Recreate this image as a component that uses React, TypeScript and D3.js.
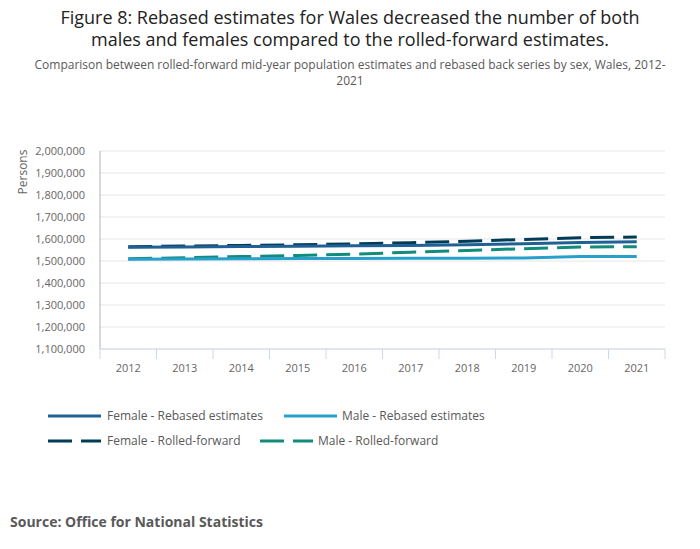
import React from 'react';
import * as d3 from 'd3';

const years = ['2012', '2013', '2014', '2015', '2016', '2017', '2018', '2019', '2020', '2021'];

const femaleRebased = [1563000, 1564000, 1566000, 1567000, 1569000, 1571000, 1574000, 1578000, 1584000, 1587000];
const maleRebased = [1508000, 1509000, 1510000, 1511000, 1511000, 1512000, 1513000, 1514000, 1521000, 1521000];
const femaleRolled = [1565000, 1568000, 1571000, 1574000, 1578000, 1583000, 1590000, 1598000, 1606000, 1609000];
const maleRolled = [1510000, 1515000, 1520000, 1525000, 1531000, 1540000, 1548000, 1556000, 1564000, 1565000];

const yTicks = [1100000, 1200000, 1300000, 1400000, 1500000, 1600000, 1700000, 1800000, 1900000, 2000000];

const series = [
  { name: 'Female - Rebased estimates', values: femaleRebased, color: '#206095', dash: '' },
  { name: 'Male - Rebased estimates', values: maleRebased, color: '#27a0cc', dash: '' },
  { name: 'Female - Rolled-forward', values: femaleRolled, color: '#003c57', dash: '24,9' },
  { name: 'Male - Rolled-forward', values: maleRolled, color: '#118c7b', dash: '24,9' },
];

const W = 700;
const H = 549;
const font = '"Open Sans", "Noto Sans", sans-serif';

export default function App() {
  const left = 100;
  const right = 665;
  const top = 151;
  const bottom = 349;

  const x = d3.scaleBand<string>().domain(years).range([left, right]);
  const y = d3.scaleLinear().domain([1100000, 2000000]).range([bottom, top]);
  const fmt = d3.format(',');

  // rolled-forward underneath, rebased on top
  const drawOrder = [series[2], series[3], series[0], series[1]];

  const legendPos = [
    { x: 48, y: 416, w: 53, tx: 107 },
    { x: 284, y: 416, w: 53, tx: 342 },
    { x: 48, y: 441, w: 53, tx: 107 },
    { x: 260, y: 441, w: 53, tx: 318 },
  ];

  return (
    <svg
      width={W}
      height={H}
      style={{ position: 'absolute', left: 0, top: 0, background: '#fff' }}
      fontFamily={font}
    >
      <text x={W / 2} y={24} textAnchor="middle" fontSize={18} fill="#222">
        Figure 8: Rebased estimates for Wales decreased the number of both
      </text>
      <text x={W / 2} y={46} textAnchor="middle" fontSize={18} fill="#222">
        males and females compared to the rolled-forward estimates.
      </text>
      <text x={W / 2} y={69} textAnchor="middle" fontSize={12} fill="#595959">
        Comparison between rolled-forward mid-year population estimates and rebased back series by sex, Wales, 2012-
      </text>
      <text x={W / 2} y={85} textAnchor="middle" fontSize={12} fill="#595959">
        2021
      </text>

      {/* grid */}
      {yTicks.map(t => (
        <g key={t}>
          <line x1={left} x2={right} y1={y(t)} y2={y(t)} stroke="#e6e6e6" strokeWidth={1} />
          <text x={85} y={y(t) + 4} textAnchor="end" fontSize={11} fill="#666">
            {fmt(t)}
          </text>
        </g>
      ))}
      <line x1={left} x2={left} y1={top} y2={bottom} stroke="#b3b3b3" strokeWidth={1} />

      <text
        transform={`translate(27,${(top + bottom) / 2 - 78}) rotate(-90)`}
        textAnchor="middle"
        fontSize={12}
        fill="#666"
      >
        Persons
      </text>

      {/* x axis */}
      <line x1={left} x2={right} y1={bottom} y2={bottom} stroke="#ccd6eb" strokeWidth={1} />
      {years.map(yr => (
        <g key={yr}>
          <line
            x1={x(yr) as number}
            x2={x(yr) as number}
            y1={bottom}
            y2={bottom + 10}
            stroke="#ccd6eb"
          />
          <text
            x={(x(yr) as number) + x.bandwidth() / 2}
            y={372}
            textAnchor="middle"
            fontSize={11}
            fill="#666"
          >
            {yr}
          </text>
        </g>
      ))}
      <line x1={right} x2={right} y1={bottom} y2={bottom + 10} stroke="#ccd6eb" />

      {/* lines */}
      {drawOrder.map(s => {
        const line = d3
          .line<number>()
          .x((_, i) => (x(years[i]) as number) + x.bandwidth() / 2)
          .y(d => y(d));
        return (
          <path
            key={s.name}
            d={line(s.values) || ''}
            fill="none"
            stroke={s.color}
            strokeWidth={3}
            strokeDasharray={s.dash || undefined}
          />
        );
      })}

      {/* legend */}
      {series.map((s, i) => {
        const p = legendPos[i];
        return (
          <g key={s.name}>
            <line
              x1={p.x}
              x2={p.x + p.w}
              y1={p.y}
              y2={p.y}
              stroke={s.color}
              strokeWidth={3}
              strokeDasharray={s.dash ? '24,9' : undefined}
            />
            <text x={p.tx} y={p.y + 4} fontSize={12} fill="#595959">
              {s.name}
            </text>
          </g>
        );
      })}

      <text x={10} y={527} fontSize={14} fontWeight="bold" fill="#595959">
        Source: Office for National Statistics
      </text>
    </svg>
  );
}
